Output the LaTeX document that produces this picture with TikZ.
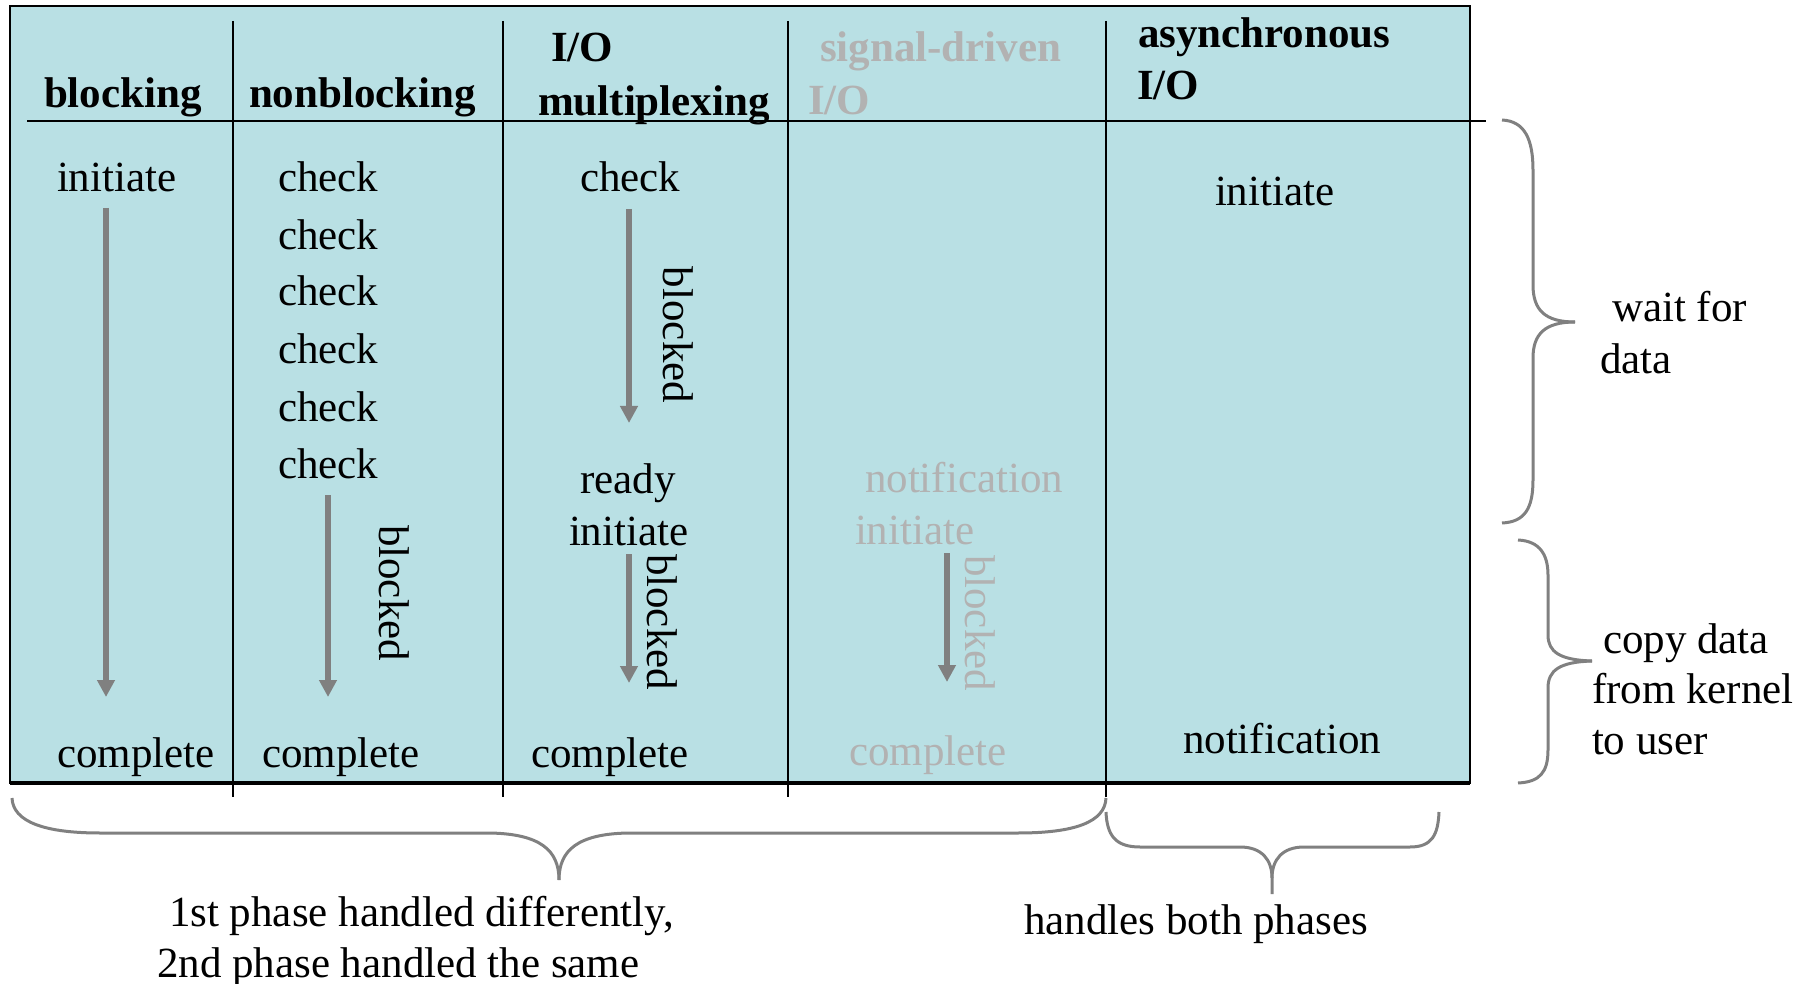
\documentclass[tikz,border=0pt]{standalone}
\usepackage{fontspec}
\setmainfont{Liberation Serif}
\usetikzlibrary{arrows.meta}
\definecolor{panel}{RGB}{185,224,228}
\definecolor{faded}{RGB}{178,178,178}
\definecolor{flow}{RGB}{128,128,128}
\begin{document}
\begin{tikzpicture}[x=0.5pt,y=-0.5pt,
  txt/.style={anchor=base west, inner sep=0pt, outer sep=0pt, text=black,
              font=\fontsize{21.5}{25}\selectfont},
  head/.style={txt, font=\fontsize{21.5}{25}\selectfont\bfseries},
  dim/.style={text=faded},
  vtxt/.style={txt, rotate=-90},
  flowarrow/.style={draw=flow, line width=2.75pt,
                    -{Triangle[length=8.5pt,width=8.5pt]}},
  rule/.style={draw=black, line width=1pt},
  brace/.style={draw=flow, line width=1.5pt}]

\path[use as bounding box] (0,0) rectangle (1811,984);

% table body
\draw[fill=panel, line width=1.2pt] (10,6) rectangle (1470,783);
\draw[line width=1.8pt] (10,783) -- (1470,783);
\draw[rule, line width=1.2pt] (27,121) -- (1486,121);
\foreach \cx in {233,503,788,1106}
  \draw[rule] (\cx,21) -- (\cx,797);

% column headings
\node[head] (hBlk) at (44,108) {blocking};
\node[head] (hNon) at (249,108) {nonblocking};
\node[head] (hMux1) at (551,62) {I/O};
\node[head] (hMux2) at (538,116) {multiplexing};
\node[head,dim] (hSig1) at (820,62) {signal-driven};
\node[head,dim] (hSig2) at (808,115) {I/O};
\node[head] (hAsy1) at (1138,48) {asynchronous};
\node[head] (hAsy2) at (1137,100) {I/O};

% blocking
\node[txt] (bInit) at (57,192) {initiate};
\node[txt] (bDone) at (57,767) {complete};
\coordinate (bA) at (106,208);
\coordinate (bB) at (106,697);
\draw[flowarrow] (bA) -- (bB);

% nonblocking
\foreach \yy [count=\k] in {192,250,306,364,422,479}
  \node[txt] (nChk\k) at (278,\yy) {check};
\node[txt] (nDone) at (262,767) {complete};
\coordinate (nA) at (328,495);
\coordinate (nB) at (328,697);
\draw[flowarrow] (nA) -- (nB);
\node[vtxt] (nBlk) at (379,525) {blocked};

% I/O multiplexing
\node[txt] (mChk) at (580,192) {check};
\node[txt] (mReady) at (580,493) {ready};
\node[txt] (mInit) at (569,545) {initiate};
\node[txt] (mDone) at (531,767) {complete};
\coordinate (mA) at (629,209);
\coordinate (mB) at (629,423);
\coordinate (mC) at (629,554);
\coordinate (mD) at (629,683);
\draw[flowarrow] (mA) -- (mB);
\draw[flowarrow] (mC) -- (mD);
\node[vtxt] (mBlk1) at (663,267) {blocked};
\node[vtxt] (mBlk2) at (647,554) {blocked};

% signal-driven I/O
\node[txt,dim] (sNote) at (865,492) {notification};
\node[txt,dim] (sInit) at (855,544) {initiate};
\node[txt,dim] (sDone) at (849,765) {complete};
\coordinate (sA) at (947,553);
\coordinate (sB) at (947,682);
\draw[flowarrow] (sA) -- (sB);
\node[vtxt,dim] (sBlk) at (965,555) {blocked};

% asynchronous I/O
\node[txt] (aInit) at (1215,206) {initiate};
\node[txt] (aNote) at (1183,753) {notification};

% phase braces on the right
\draw[brace] (1502,120) .. controls (1525,121) and (1533,140) .. (1533,170) -- (1533,285)
  .. controls (1533,310) and (1545,322) .. (1575,322);
\draw[brace] (1575,322) .. controls (1545,322) and (1533,334) .. (1533,358) -- (1533,480)
  .. controls (1533,508) and (1525,522) .. (1502,523);
\draw[brace] (1518,540) .. controls (1540,541) and (1548,555) .. (1548,575) -- (1548,635)
  .. controls (1548,652) and (1560,660) .. (1592,661);
\draw[brace] (1592,661) .. controls (1560,662) and (1548,670) .. (1548,688) -- (1548,750)
  .. controls (1548,772) and (1540,782) .. (1518,783);

\node[txt] (wait1) at (1612,322) {wait for};
\node[txt] (wait2) at (1600,373) {data};
\node[txt] (copy1) at (1603,653) {copy data};
\node[txt] (copy2) at (1592,703) {from kernel};
\node[txt] (copy3) at (1592,754) {to user};

% braces below the table
\draw[brace] (12,798) .. controls (13,822) and (45,833) .. (100,833) -- (490,833)
  .. controls (540,834) and (559,850) .. (559,880);
\draw[brace] (559,880) .. controls (559,850) and (578,834) .. (628,833) -- (1018,833)
  .. controls (1075,833) and (1105,822) .. (1106,798);
\draw[brace] (1106,812) .. controls (1107,835) and (1115,847) .. (1140,847) -- (1240,847)
  .. controls (1262,847) and (1272,860) .. (1272,878) -- (1272,894);
\draw[brace] (1272,878) .. controls (1272,860) and (1282,847) .. (1304,847) -- (1410,847)
  .. controls (1432,847) and (1438,835) .. (1439,812);

\node[txt] (ph1) at (169,926) {1st phase handled differently,};
\node[txt] (ph2) at (157,977) {2nd phase handled the same};
\node[txt] (ph3) at (1024,934) {handles both phases};
\end{tikzpicture}
\end{document}
